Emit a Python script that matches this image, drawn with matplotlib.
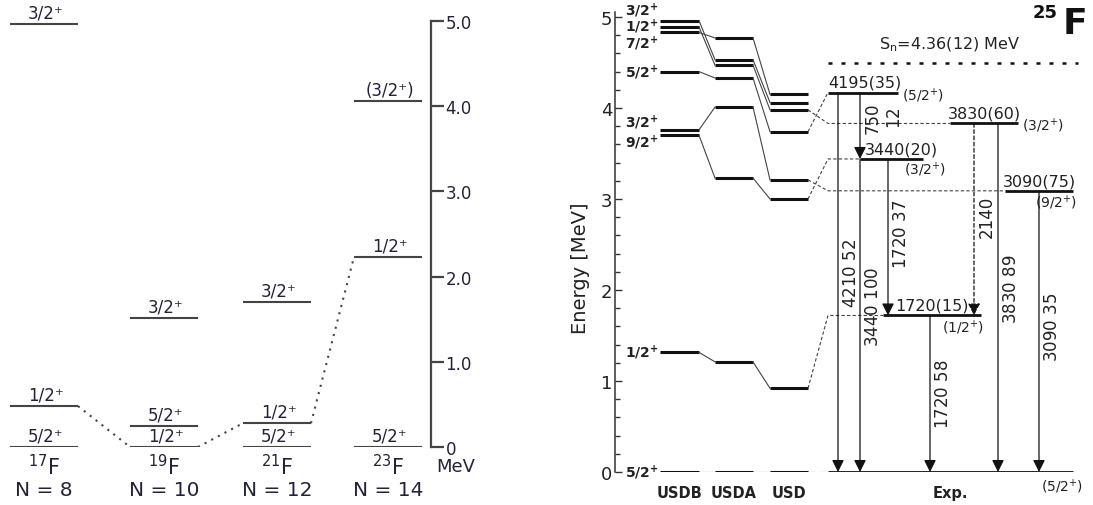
import matplotlib.pyplot as plt
from matplotlib.ticker import MultipleLocator

plt.rcParams['font.family'] = 'DejaVu Sans'
plt.rcParams['mathtext.default'] = 'regular'

# ---------------- left panel: odd-A fluorine systematics
isotopes = ['$^{17}$F', '$^{19}$F', '$^{21}$F', '$^{23}$F']
neutrons = ['N = 8', 'N = 10', 'N = 12', 'N = 14']
iso_energy = [[0.0, 0.48, 4.97], [0.0, 0.25, 1.51], [0.0, 0.28, 1.70], [0.0, 2.23, 4.06]]
iso_spin = [['5/2⁺', '1/2⁺', '3/2⁺'], ['1/2⁺', '5/2⁺', '3/2⁺'],
            ['5/2⁺', '1/2⁺', '3/2⁺'], ['5/2⁺', '1/2⁺', '(3/2⁺)']]
half_state = [0.48, 0.0, 0.28, 2.23]   # 1/2+ followed through the chain
mev_ticks = [0, 1, 2, 3, 4, 5]
mev_labels = ['0', '1.0', '2.0', '3.0', '4.0', '5.0']

# ---------------- right panel: 25F
models = ['USDB', 'USDA', 'USD']
th_spin = ['5/2', '1/2', '9/2', '3/2', '5/2', '7/2', '1/2', '3/2']
usdb = [0.0, 1.315, 3.70, 3.76, 4.40, 4.83, 4.89, 4.96]
usda = [0.0, 1.21, 3.23, 4.01, 4.33, 4.77, 4.47, 4.53]
usd = [0.0, 0.92, 3.00, 3.21, 3.74, 4.15, 3.98, 4.06]

exp_energy = [0.0, 1.72, 3.09, 3.44, 3.83, 4.17]
exp_name = ['', '1720(15)', '3090(75)', '3440(20)', '3830(60)', '4195(35)']
exp_spin = ['(5/2$^{+}$)', '(1/2$^{+}$)', '(9/2$^{+}$)', '(3/2$^{+}$)', '(3/2$^{+}$)', '(5/2$^{+}$)']
exp_partner = [0.0, 0.92, 3.21, 3.00, 3.98, 3.74]   # USD level linked to each

g_from = [4.17, 4.17, 3.44, 3.44, 3.83, 3.83, 1.72, 3.09]
g_to = [0.0, 3.44, 0.0, 1.72, 1.72, 0.0, 0.0, 0.0]
g_energy = ['4210', '750', '3440', '1720', '2140', '3830', '1720', '3090']
g_int = ['52', '12', '100', '37', '', '89', '58', '35']
g_tentative = [False, False, False, False, True, False, False, False]

sn = 4.49
sn_label = 'S$_n$=4.36(12) MeV'

# ---------------- layout (pixel-like x positions)
iso_x = [44, 164, 277, 388]
half_w = 34
th_x = [(660, 699), (715, 753), (770, 808)]
th_label_y = [0.0, 1.315, 3.63, 3.85, 4.40, 4.72, 4.90, 5.08]
exp_x0 = [828, 883, 1005, 860, 950, 828]
exp_x1 = [1073, 981, 1073, 923, 1018, 898]
name_x = [0, 895, 1003, 865, 948, 828]
spin_pos = [(1062, -0.15), (963, 1.60), (1056, 2.97), (925, 3.33), (1043, 3.81), (923, 4.14)]
g_x = [838, 860, 860, 888, 974, 998, 930, 1039]
g_label_y = [2.19, 3.90, 1.82, 2.62, 2.81, 2.02, 0.86, 1.60]

fig = plt.figure(figsize=(10.93, 5.06), dpi=100)

# ===== left
axL = fig.add_axes([0, 58 / 506, 431 / 1093, 426 / 506])
axL.set_xlim(0, 431)
axL.set_ylim(0, 5)
axL.patch.set_visible(False)
for s in ['left', 'top', 'bottom']:
    axL.spines[s].set_visible(False)
axL.spines['right'].set_bounds(0, 5)
axL.spines['right'].set_color('#444')
axL.spines['right'].set_linewidth(1.6)
axL.yaxis.tick_right()
axL.set_yticks(mev_ticks)
axL.set_yticklabels(mev_labels)
axL.set_xticks([])
axL.tick_params(axis='y', direction='out', length=9.5, width=1.6, color='#444',
                labelsize=12, pad=1, labelcolor='#22223a')

for xc, energies, spins, iso, nn in zip(iso_x, iso_energy, iso_spin, isotopes, neutrons):
    axL.hlines(energies, xc - half_w, xc + half_w, color='#444', lw=1.5)
    for e, s in zip(energies, spins):
        axL.text(xc + 2, e + 0.03, s, ha='center', va='bottom', fontsize=12, color='#22223a')
    axL.text(xc, -0.22, iso, ha='center', va='center', fontsize=15, color='#22223a')
    axL.text(xc, -0.5, nn, ha='center', va='center', fontsize=14.5, color='#22223a')
for i in range(len(iso_x) - 1):
    axL.plot([iso_x[i] + half_w, iso_x[i + 1] - half_w], [half_state[i], half_state[i + 1]],
             color='#444', lw=1.5, ls=(0, (1, 2.6)))
axL.text(436, -0.22, 'MeV', ha='left', va='center', fontsize=13, color='#22223a')

# ===== right
axR = fig.add_axes([615 / 1093, 33 / 506, 478 / 1093, 455 / 506])
axR.set_xlim(615, 1093)
axR.set_ylim(0, 5)
axR.patch.set_visible(False)
for s in ['right', 'top', 'bottom']:
    axR.spines[s].set_visible(False)
axR.spines['left'].set_bounds(0, 5.05)
axR.spines['left'].set_color('#333')
axR.spines['left'].set_linewidth(1.1)
axR.set_xticks([])
axR.set_yticks([0, 1, 2, 3, 4, 5])
axR.yaxis.set_minor_locator(MultipleLocator(0.2))
axR.tick_params(axis='y', which='major', direction='in', length=5, width=1, color='#333',
                labelsize=13, pad=2, labelcolor='#222')
axR.tick_params(axis='y', which='minor', direction='in', length=3.5, width=1, color='#333')
axR.set_ylabel('Energy [MeV]', fontsize=14, color='#222')
axR.yaxis.set_label_coords(-0.052, 0.45)

th_data = [usdb, usda, usd]
for (x0, x1), vals, name in zip(th_x, th_data, models):
    axR.hlines(vals, x0, x1, color='#111', lw=2.2)
    axR.text((x0 + x1) / 2, -0.22, name, ha='center', va='center', fontsize=10.5,
             fontweight='bold', color='#222')
for a in range(len(th_data) - 1):
    for j in range(len(th_spin)):
        axR.plot([th_x[a][1], th_x[a + 1][0]], [th_data[a][j], th_data[a + 1][j]],
                 color='#444', lw=0.8)
for s, y in zip(th_spin, th_label_y):
    axR.text(658, y, s + r'$^{\mathbf{+}}$', ha='right', va='center', fontsize=10,
             fontweight='bold', color='#222')
axR.text(950, -0.22, 'Exp.', ha='center', va='center', fontsize=10.5, fontweight='bold', color='#222')

# experimental levels
axR.hlines(exp_energy, exp_x0, exp_x1, color='#111', lw=2)
for k, e in enumerate(exp_energy):
    if e == 0:
        axR.plot([808, 828], [exp_partner[k], e], color='#444', lw=0.8, ls='-.')
    else:
        axR.plot([808, 828, exp_x0[k]], [exp_partner[k], e, e], color='#444', lw=0.8,
                 ls=(0, (3, 2)))
        axR.text(name_x[k], e + 0.03, exp_name[k], ha='left', va='bottom', fontsize=11.5,
                 color='#222')
    sx, sy = spin_pos[k]
    axR.text(sx, sy, exp_spin[k], ha='center', va='center', fontsize=10, color='#222')

# gamma transitions
for k in range(len(g_x)):
    ls = (0, (3, 2)) if g_tentative[k] else '-'
    axR.annotate('', xy=(g_x[k], g_to[k]), xytext=(g_x[k], g_from[k]),
                 arrowprops=dict(arrowstyle='-|>', color='#111', lw=0.9, ls=ls,
                                 shrinkA=0, shrinkB=0, mutation_scale=18))
    if g_energy[k] == '750':
        axR.text(g_x[k] + 4, g_label_y[k], g_energy[k], rotation=90, ha='left', va='center',
                 fontsize=12, color='#222')
        axR.text(g_x[k] + 26, g_label_y[k], r'$\it{%s}$' % g_int[k], rotation=90,
                 ha='left', va='center', fontsize=12, color='#222')
    else:
        lab = g_energy[k] + (r' $\it{%s}$' % g_int[k] if g_int[k] else '')
        axR.text(g_x[k] + 4, g_label_y[k], lab, rotation=90, ha='left', va='center',
                 fontsize=12, color='#222')

axR.plot([828, 1078], [sn, sn], color='#111', lw=1.8, ls=(0, (1.6, 3.6)))
axR.text(950, 4.70, sn_label, ha='center', va='center', fontsize=11.5, color='#222')
axR.text(1087, 5.12, 'F', ha='right', va='top', fontsize=26, fontweight='bold', color='#111')
axR.text(1058, 5.15, '25', ha='right', va='top', fontsize=13, fontweight='bold', color='#111')

fig.savefig('out.png', dpi=100)
